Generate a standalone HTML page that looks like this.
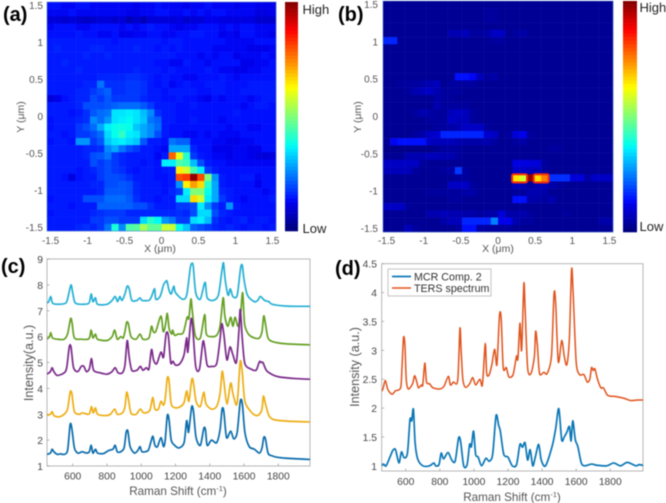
<!DOCTYPE html>
<html lang="en">
<head>
<meta charset="utf-8">
<title>Raman maps and spectra</title>
<style>
html,body{margin:0;padding:0;background:#fff;width:666px;height:503px;overflow:hidden}
svg{display:block;font-family:"Liberation Sans",sans-serif;filter:blur(0.6px)}
.tick{fill:#555;font-size:10px}
.tickc{fill:#444;font-size:10.3px}
.title{fill:#555;font-size:11.7px}
.ytitle{fill:#555;font-size:12.6px}
.ht{fill:#555;font-size:10.5px}
.panel{fill:#000;font-size:20px;font-weight:bold}
.cb{fill:#222;font-size:13px}
</style>
</head>
<body>
<svg id="fig" width="666" height="503" viewBox="0 0 666 503" xmlns="http://www.w3.org/2000/svg">
<defs>
<clipPath id="clipC"><rect x="47" y="259" width="263" height="207"/></clipPath>
<clipPath id="clipD"><rect x="381.7" y="263.7" width="261.3" height="207.3"/></clipPath>
</defs>
<g id="heatA"></g>
<g id="heatB"></g>
<g id="barA"></g>
<g id="barB"></g>
<g id="axes"></g>
<g id="linesC" clip-path="url(#clipC)"></g>
<g id="linesD" clip-path="url(#clipD)"></g>

<text class="panel" x="3" y="21">(a)</text>
<text class="panel" x="338" y="21">(b)</text>
<text class="panel" x="1" y="273">(c)</text>
<text class="panel" x="335" y="275">(d)</text>

<text class="cb" x="302.5" y="14">High</text>
<text class="cb" x="302.5" y="233">Low</text>
<text class="cb" x="639.5" y="12">High</text>
<text class="cb" x="639.5" y="231">Low</text>

<text class="ht" x="160" y="252" text-anchor="middle">X (μm)</text>
<text class="ht" transform="translate(24,117) rotate(-90)" text-anchor="middle">Y (μm)</text>
<text class="ht" x="498" y="252" text-anchor="middle">X (μm)</text>
<text class="ht" transform="translate(361,117) rotate(-90)" text-anchor="middle">Y (μm)</text>

<text class="title" x="178" y="495" text-anchor="middle">Raman Shift (cm<tspan font-size="7.5" dy="-4">-1</tspan><tspan dy="4">)</tspan></text>
<text class="ytitle" transform="translate(33,363) rotate(-90)" text-anchor="middle">Intensity(a.u.)</text>
<text class="title" x="512" y="501" text-anchor="middle">Raman Shift (cm<tspan font-size="7.5" dy="-4">-1</tspan><tspan dy="4">)</tspan></text>
<text class="ytitle" transform="translate(359,367) rotate(-90)" text-anchor="middle">Intensity (a.u.)</text>

<g>
<rect x="388" y="269" width="103" height="27" fill="#fff" stroke="#aaa" stroke-width="0.7"/>
<line x1="392" x2="411" y1="276.5" y2="276.5" stroke="#0f7ab8" stroke-width="1.7"/>
<text x="414" y="280.5" font-size="10.7" fill="#333">MCR Comp. 2</text>
<line x1="392" x2="411" y1="288" y2="288" stroke="#e0531c" stroke-width="1.6"/>
<text x="414" y="292" font-size="10.7" fill="#333">TERS spectrum</text>
</g>
</svg>

<script>
const heatTicks = [-1.5, -1, -0.5, 0, 0.5, 1, 1.5];
const heatTickLabels = ["-1.5", "-1", "-0.5", "0", "0.5", "1", "1.5"];

const mapA = [
[14,14,13,13,14,14,13,13,13,13,13,13,12,13,13,14,13,13,13,12,13,13,14,13,13,13,12,13,13,12,12,12],
[13,13,13,14,13,13,13,13,13,13,13,12,12,13,13,14,14,13,13,14,13,14,13,14,14,13,13,13,13,11,11,12],
[10,10,9,10,9,8,9,10,10,9,10,7,9,7,10,10,10,10,11,9,10,10,12,12,11,11,11,11,11,9,9,9],
[13,14,14,14,13,13,14,14,14,14,13,14,13,14,15,14,14,13,12,13,13,14,14,14,13,14,13,14,14,13,13,13],
[14,14,14,14,15,14,14,13,13,14,12,12,13,13,14,14,13,13,14,14,15,15,14,14,12,13,12,14,14,13,13,12],
[15,15,15,15,15,15,15,15,15,14,15,15,15,15,15,15,14,15,15,14,14,14,14,14,14,13,13,13,13,14,14,14],
[15,16,15,15,15,15,16,16,15,15,15,15,16,15,15,14,15,14,15,14,14,14,14,13,13,13,13,13,12,12,12,13],
[15,15,15,15,15,16,15,15,16,15,15,15,15,15,15,15,15,15,14,14,14,13,14,13,14,14,12,13,13,13,14,13],
[15,15,16,15,15,15,15,15,15,15,15,15,15,15,15,14,14,13,13,15,14,14,13,14,14,14,14,12,12,13,13,14],
[15,15,15,15,16,15,15,15,15,15,15,15,16,15,15,15,14,15,14,14,14,14,15,14,13,13,12,12,13,13,14,14],
[15,15,15,15,15,15,15,16,16,16,16,17,17,16,15,14,15,14,14,13,13,14,14,14,15,14,13,14,14,14,14,14],
[15,15,15,15,15,16,16,24,17,17,17,18,18,17,15,14,15,13,14,15,14,14,15,15,15,14,14,14,15,15,15,15],
[15,15,15,15,16,16,18,20,22,17,17,18,18,17,15,15,14,15,15,15,15,14,14,15,15,14,14,15,15,15,15,15],
[10,12,14,15,16,16,20,18,21,18,18,18,18,16,15,15,14,14,15,14,14,13,12,14,13,14,14,14,13,14,15,15],
[15,15,15,15,16,20,20,20,21,22,23,23,23,21,18,15,15,15,14,14,15,14,14,14,14,14,14,13,14,15,15,14],
[15,15,15,14,15,17,21,23,24,35,35,36,35,31,26,17,15,15,14,14,14,14,14,14,14,14,15,14,14,14,14,14],
[14,15,15,15,16,17,26,23,27,35,36,37,35,32,24,22,15,15,14,14,15,14,14,14,13,14,14,14,14,14,14,14],
[14,15,15,15,18,20,23,29,36,38,39,38,32,29,26,23,15,14,14,14,14,14,14,14,14,13,14,14,13,13,14,14],
[15,15,14,15,18,18,20,23,34,38,42,36,35,29,26,20,15,14,14,13,13,14,13,14,13,13,13,14,14,14,14,14],
[14,15,15,14,27,27,18,21,32,35,36,34,32,21,15,15,14,24,22,22,14,14,14,13,13,12,12,13,13,14,14,14],
[15,15,15,15,15,16,16,17,26,29,24,20,18,15,15,14,13,29,29,29,16,14,14,12,12,12,13,13,12,12,14,14],
[15,15,15,15,15,16,20,21,24,18,16,15,15,15,15,13,15,78,60,41,18,15,14,13,13,12,13,13,12,11,10,11],
[15,15,15,15,15,15,20,18,20,18,16,15,15,14,15,14,36,36,45,43,31,20,15,14,14,13,13,13,13,13,13,13],
[15,15,15,15,14,15,16,18,20,18,17,15,14,15,15,14,15,15,64,58,44,36,18,15,14,14,14,14,14,14,14,14],
[15,15,14,11,14,15,15,18,20,20,19,17,15,15,15,14,14,15,80,82,98,80,50,27,15,14,14,15,15,13,14,14],
[15,15,15,15,15,15,16,16,20,20,21,20,16,15,15,15,14,15,27,64,72,66,41,29,15,14,14,14,14,12,14,14],
[15,15,15,15,15,15,15,16,21,21,21,20,16,15,15,15,14,16,18,36,50,50,38,29,16,15,14,14,14,14,13,14],
[14,15,15,15,15,20,20,20,23,23,23,21,17,15,15,14,15,15,34,34,66,58,36,29,18,15,14,13,14,14,14,15],
[15,15,15,14,15,15,15,22,22,22,22,22,20,20,17,15,15,15,18,18,20,36,26,18,15,27,15,14,14,14,14,14],
[14,15,15,15,15,15,16,17,18,18,18,16,16,16,16,16,16,16,17,16,20,34,34,20,16,15,14,14,14,14,14,14],
[15,15,15,15,15,15,18,18,20,20,18,18,18,34,41,37,27,24,18,18,34,36,31,17,15,14,15,16,14,15,15,14],
[15,15,15,15,16,17,16,18,24,40,26,45,46,54,47,47,57,57,38,32,22,20,18,16,15,16,15,14,15,15,14,15]
];

const mapB = [
[3,3,3,3,3,3,3,3,3,3,3,3,3,3,3,3,3,3,3,3,3,3,3,3,3,3,3,3,3,3,3,3],
[3,3,3,3,3,3,3,3,3,3,3,3,3,3,4,4,3,3,3,3,3,3,3,3,3,3,3,3,3,3,3,3],
[3,3,3,3,3,3,3,3,3,3,3,3,3,3,4,4,3,3,3,3,3,3,3,3,3,3,3,3,3,3,3,3],
[3,3,3,3,3,3,3,3,3,3,3,3,3,3,3,3,3,3,3,3,3,3,3,3,3,3,3,3,3,3,3,3],
[3,3,3,3,3,3,3,3,3,6,6,7,4,4,5,8,8,3,4,5,3,3,3,3,3,3,3,3,3,3,3,3],
[16,16,3,3,3,3,3,3,3,3,3,3,3,3,3,4,4,3,3,3,3,3,3,3,3,3,3,3,3,3,3,3],
[3,3,3,3,3,3,3,3,3,3,3,3,3,3,3,3,3,3,3,3,3,3,3,3,3,3,3,3,3,3,3,3],
[3,3,3,3,3,3,3,3,3,3,3,3,3,3,3,3,3,3,3,3,3,3,3,3,3,3,3,3,3,3,3,3],
[3,3,3,3,3,3,3,3,3,3,3,3,3,3,3,3,3,3,3,3,3,3,3,3,3,3,3,3,3,3,3,3],
[3,3,3,3,3,3,3,3,3,3,3,3,3,3,3,3,3,3,3,3,3,3,3,3,3,3,3,3,3,3,3,3],
[3,3,3,3,3,3,3,3,3,3,14,14,13,7,4,5,3,3,3,3,3,3,3,3,3,3,3,3,3,3,3,3],
[3,3,4,4,4,5,6,7,3,4,4,4,4,3,3,3,3,3,3,3,3,3,3,3,3,3,3,3,3,3,3,3],
[3,3,3,4,6,7,8,6,4,4,4,3,3,3,3,3,3,3,3,3,3,3,3,3,3,3,3,3,3,3,3,3],
[3,3,3,3,3,3,3,5,4,4,3,3,3,3,3,3,3,3,3,3,3,3,3,3,3,3,3,3,3,3,3,3],
[3,3,3,3,3,3,3,6,4,4,4,4,3,3,3,3,3,3,3,3,3,3,3,3,3,3,3,3,3,3,3,3],
[3,3,3,3,4,6,5,4,4,7,8,7,4,3,3,3,3,3,3,3,3,3,3,3,3,3,3,3,3,3,3,3],
[3,3,3,3,3,3,4,4,4,8,7,7,4,3,3,3,3,3,3,3,3,3,3,3,3,3,3,3,3,3,3,3],
[3,3,3,3,3,3,3,4,4,5,6,8,8,8,4,3,3,3,3,3,3,3,3,3,3,3,3,3,3,3,3,3],
[3,3,3,3,4,5,8,9,16,16,16,16,16,16,9,8,3,4,10,12,4,3,3,3,3,3,3,3,3,3,3,3],
[3,13,14,14,14,14,8,7,7,7,6,5,5,5,6,4,3,3,4,5,3,3,3,3,3,3,3,3,3,3,3,3],
[2,2,2,2,2,2,2,3,4,4,4,3,3,3,3,3,3,3,3,3,3,3,3,4,4,3,3,3,3,3,3,3],
[3,3,3,6,6,6,7,7,6,6,4,3,3,3,3,3,3,3,3,3,3,3,3,3,3,3,3,3,3,3,3,3],
[8,8,8,8,8,4,3,3,3,3,3,3,3,3,3,3,3,3,11,11,10,10,4,3,3,3,3,3,3,3,3,3],
[7,7,7,7,4,3,3,3,4,5,18,4,3,3,3,3,3,3,8,8,7,7,4,3,3,3,3,3,3,3,3,3],
[3,3,3,3,3,3,3,3,3,3,4,4,3,3,3,3,3,3,65,58,98,66,75,17,17,17,10,10,5,8,8,8],
[3,3,3,3,3,3,3,3,3,8,8,8,4,3,3,3,3,3,7,6,4,6,7,5,4,3,3,3,3,3,3,3],
[3,3,3,3,3,3,4,4,4,4,4,5,5,3,3,3,3,3,4,4,6,6,5,3,3,3,3,3,3,3,3,3],
[3,3,3,3,3,3,3,3,3,4,4,3,3,3,3,3,3,3,14,14,5,5,4,6,3,3,3,3,3,3,3,3],
[8,8,8,4,3,3,3,3,3,3,3,3,3,3,3,3,3,3,3,3,3,3,3,3,3,3,3,3,3,3,3,3],
[3,3,3,3,3,3,6,6,7,6,6,5,5,4,5,5,10,5,5,6,4,3,3,3,3,4,3,3,3,3,3,3],
[3,3,3,3,3,3,3,3,5,7,7,16,16,16,16,25,12,12,6,4,4,3,3,3,3,3,3,3,3,3,5,5],
[3,3,3,7,4,3,3,3,3,3,4,14,14,5,4,4,4,4,3,3,3,3,3,3,3,3,3,3,3,3,3,3]
];

const hotRow = 24;
const hotRunStart = [18, 21];
const hotRunEnd = [19, 22];

const cTicksX = [600, 800, 1000, 1200, 1400, 1600, 1800];
const cTicksY = [1, 2, 3, 4, 5, 6, 7, 8, 9];
const dTicksX = [600, 800, 1000, 1200, 1400, 1600, 1800];
const dTicksY = [1, 1.5, 2, 2.5, 3, 3.5, 4, 4.5];

const blueShift = [450,470,480,490,510,530,550,570,585,595,610,630,655,680,697,708,718,733,745,780,810,835,848,860,880,900,912,922,935,960,980,993,1005,1040,1055,1068,1080,1095,1115,1130,1140,1152,1162,1175,1195,1220,1250,1265,1275,1282,1295,1305,1320,1345,1365,1375,1385,1410,1440,1460,1472,1482,1498,1522,1540,1560,1578,1590,1605,1630,1660,1690,1705,1715,1725,1740,1760,1800,1850,1900,2000];
const blueValues = [1.45,1.5,1.65,1.55,1.45,1.47,1.45,1.6,2.6,2.45,1.7,1.5,1.55,1.5,1.55,1.8,1.5,1.65,1.5,1.48,1.6,1.65,1.8,1.55,1.55,1.7,2.3,2.35,1.75,1.5,1.6,1.75,1.55,1.6,1.9,2.15,1.8,1.75,2.1,1.75,2,2.95,2.8,2,1.8,1.7,1.9,2.75,2.3,2.6,3.3,3.1,2.1,1.8,2.45,2.4,1.8,2,1.9,2.4,3.2,3.1,2.1,2.35,2.05,2.3,3.5,3.4,2.3,1.75,1.65,1.5,1.7,2.1,2.05,1.5,1.4,1.33,1.3,1.28,1.25];

const yellowShift = [450,470,480,490,520,550,570,585,595,610,640,655,690,700,710,720,733,745,790,820,845,860,890,905,915,925,940,970,995,1015,1050,1067,1080,1100,1115,1130,1140,1152,1162,1175,1200,1230,1250,1265,1278,1295,1305,1320,1345,1365,1378,1410,1440,1460,1472,1482,1500,1522,1535,1555,1565,1578,1590,1605,1640,1670,1690,1705,1713,1725,1745,1770,1820,1900,2000];
const yellowValues = [2.95,3,3.1,2.95,2.9,3,3.2,3.85,3.8,3.1,3,3.05,3,3.05,3.3,3.05,3.25,3,2.95,3,3.2,3,3.05,3.3,3.85,3.6,3.05,3,3.2,3.05,3.15,3.65,3.2,3.2,3.5,3.35,3.6,4.4,4.3,3.4,3.25,3.3,3.45,3.9,3.5,4.35,4.2,3.5,3.3,3.85,3.4,3.2,3.3,3.8,4.65,4.3,3.4,4.2,3.8,3.35,3.8,5.05,4.6,3.5,3.1,2.95,3,3.2,3.7,3.4,2.95,2.8,2.75,2.72,2.7];

const purpleShift = [450,470,480,490,510,550,565,580,590,605,630,650,665,680,697,710,722,760,800,830,848,865,890,905,918,930,945,975,995,1010,1030,1045,1060,1072,1090,1115,1130,1145,1158,1172,1185,1200,1225,1250,1265,1272,1290,1300,1318,1340,1360,1370,1385,1410,1440,1460,1470,1482,1500,1518,1535,1555,1570,1578,1590,1605,1640,1670,1685,1692,1700,1710,1730,1760,1800,1900,2000];
const purpleValues = [4.55,4.65,4.8,4.65,4.5,4.6,4.8,5.6,5.6,4.8,4.65,4.85,4.85,4.65,4.75,5.15,4.7,4.6,4.55,4.65,4.8,4.6,4.6,4.9,5.85,5.2,4.7,4.7,4.85,4.7,4.8,4.75,5.5,5.1,4.95,5.4,5.2,6.1,6.05,5,5.05,4.9,4.95,5.3,5.95,5.4,6.65,6.4,4.85,4.75,5.8,5.6,4.9,4.85,4.95,5.9,6.5,6.1,5.1,5.6,5.3,5,6.2,7.05,5.9,4.95,4.75,4.7,4.95,5.05,5,5,4.7,4.55,4.45,4.38,4.35];

const greenShift = [450,465,472,482,510,550,570,588,597,610,650,690,700,708,718,733,745,800,830,845,860,880,895,905,915,925,940,970,993,1010,1045,1060,1070,1085,1115,1128,1140,1152,1163,1178,1183,1195,1215,1245,1268,1278,1290,1298,1315,1345,1370,1380,1410,1440,1460,1478,1488,1505,1522,1535,1548,1565,1580,1592,1603,1625,1660,1690,1705,1715,1725,1740,1770,1850,2000];
const greenValues = [5.9,6,6.15,5.95,5.9,5.9,6.1,6.7,6.5,5.95,5.9,5.9,6,6.25,5.95,6.1,5.9,5.85,6,6.25,5.9,6,5.95,6.2,6.55,6.5,6,5.9,6.1,5.9,5.95,6.4,6.2,6.2,6.8,6.2,6.4,6.9,6.3,6.1,6.25,6.05,6.1,6.15,6.75,6.7,7.45,7,6.05,5.95,6.85,6.1,6,6.05,6.4,7.5,6.8,6.4,6.75,6.4,6.75,6.4,6.9,7.7,6.5,6.1,5.95,5.95,6.2,6.8,6.5,5.95,5.8,5.72,5.68];

const cyanShift = [450,460,472,482,510,560,575,590,600,615,660,695,708,718,733,745,800,830,848,862,875,888,905,918,930,945,975,993,1005,1045,1060,1078,1085,1110,1130,1140,1150,1162,1175,1190,1200,1240,1265,1285,1292,1303,1318,1345,1372,1385,1420,1450,1470,1480,1490,1507,1520,1535,1560,1580,1590,1600,1620,1660,1680,1695,1720,1745,1765,1850,2000];
const cyanValues = [7.3,7.35,7.55,7.3,7.25,7.3,7.6,8,7.7,7.3,7.25,7.3,7.65,7.35,7.5,7.25,7.25,7.4,7.55,7.35,7.55,7.4,7.65,7.95,7.85,7.4,7.4,7.5,7.4,7.4,7.55,7.85,7.45,7.55,8,8.1,8.15,7.8,7.65,7.95,7.7,7.45,7.6,8.6,8.8,8.75,7.7,7.45,8.1,7.5,7.4,7.6,8.5,8.85,8.2,7.6,7.85,7.55,7.6,8.65,8.75,8.2,7.6,7.35,7.4,7.55,7.4,7.35,7.25,7.18,7.17];

const tersShift = [450,465,480,495,520,540,570,578,587,595,603,615,640,652,665,675,692,700,712,722,740,760,800,825,850,862,880,905,918,925,935,950,975,993,1010,1035,1048,1055,1067,1075,1090,1105,1122,1135,1150,1160,1172,1190,1205,1230,1250,1258,1270,1280,1293,1300,1315,1335,1355,1362,1372,1385,1410,1430,1455,1470,1480,1495,1515,1530,1545,1560,1573,1582,1600,1620,1645,1665,1680,1690,1700,1710,1725,1745,1760,1785,1830,1880,1920,1960,2000];
const tersValues = [2.28,2.32,2.48,2.32,2.24,2.3,2.35,2.7,3.22,3.1,2.5,2.33,2.42,2.56,2.45,2.35,2.4,2.4,2.78,2.45,2.42,2.35,2.33,2.38,2.55,2.4,2.45,2.48,3.38,3,2.5,2.36,2.42,2.53,2.4,2.5,2.38,2.6,3.12,2.6,2.58,2.75,3.02,2.75,3.6,3.55,2.7,2.7,2.54,2.58,2.9,2.85,3.47,3,4.15,3.75,2.7,2.6,2.9,3.33,3.1,2.6,2.62,2.6,2.9,3.98,3.8,2.8,3.17,2.9,2.75,3.2,4.4,4,2.8,2.58,2.58,2.45,2.5,2.7,2.65,2.68,2.5,2.35,2.35,2.22,2.2,2.17,2.13,2.14,2.14];

const mcrShift = [450,470,485,510,525,540,560,575,590,610,625,635,645,655,670,700,740,765,775,795,808,822,848,870,890,910,922,940,960,975,985,998,1010,1025,1045,1070,1090,1110,1130,1145,1155,1175,1200,1225,1250,1270,1285,1300,1315,1330,1345,1360,1380,1395,1420,1460,1480,1498,1515,1530,1545,1560,1570,1580,1595,1610,1630,1650,1690,1720,1780,1820,1860,1900,1950,1970,2000];
const mcrValues = [1,1.03,1,1.17,1.27,1.28,1.05,1.24,1.14,1.22,1.8,1.78,1.98,1.4,1.12,1,1,1.05,1,1.02,1.22,1.12,1.23,1.1,1.08,1.48,1.42,1,1.02,1.37,1.33,1.6,1.2,1.15,1,1.13,1.08,1.2,1.87,1.7,1.6,1.2,1.15,1,1.02,1.37,1.32,1.4,1.1,1.28,1,1.15,1.37,1.1,1,1.35,1.65,1.99,1.45,1.5,1.58,1.68,1.43,1.78,1.45,1.33,1.05,1,1.03,1.01,1,1.05,1,1.06,1,1.02,1];

const NS = "http://www.w3.org/2000/svg";

function jet(v) {
  const c = (x) => Math.round(255 * Math.max(0, Math.min(1, x)));
  const r = Math.min(4 * v - 1.5, -4 * v + 4.5);
  const g = Math.min(4 * v - 0.5, -4 * v + 3.5);
  const b = Math.min(4 * v + 0.5, -4 * v + 2.5) * 0.94;
  return "rgb(" + c(r) + "," + c(g) + "," + c(b) + ")";
}

function shape(parent, tag, attrs) {
  const el = document.createElementNS(NS, tag);
  for (const k in attrs) el.setAttribute(k, attrs[k]);
  parent.appendChild(el);
  return el;
}

function drawHeat(parent, matrix, x0, y0, w, h, name) {
  const rows = matrix.length;
  const cols = matrix[0].length;
  const cw = w / cols;
  const ch = h / rows;
  matrix.forEach((row, j) => {
    row.forEach((value, i) => {
      const cell = shape(parent, "rect", {
        x: x0 + i * cw, y: y0 + j * ch, width: cw + 0.25, height: ch + 0.25, fill: jet(value / 100)
      });
      
      
    });
  });
}

function drawHotHalo(parent, x0, y0, w, h, cols, rows) {
  const cw = w / cols;
  const ch = h / rows;
  hotRunStart.forEach((start, k) => {
    const halo = shape(parent, "rect", {
      x: x0 + start * cw - 0.3, y: y0 + hotRow * ch, width: (hotRunEnd[k] - start + 1) * cw + 0.6, height: ch + 1,
      rx: 1.5, fill: "none", stroke: "#f02a10", "stroke-width": 2
    });
    
    
  });
}

function drawColorbar(parent, x, y, w, h) {
  const steps = 64;
  for (let k = 0; k < steps; k++) {
    const seg = shape(parent, "rect", {
      x: x, y: y + (h * k) / steps, width: w, height: h / steps + 0.3, fill: jet(1 - (k + 0.5) / steps)
    });
    
    
  }
}

function tickLabel(parent, x, y, text, anchor, cls) {
  const t = shape(parent, "text", { x: x, y: y, "text-anchor": anchor, class: cls });
  t.textContent = text;
  
  
}

function heatAxes(parent, x0, y0, w, h, labelX, labelY) {
  const half = 3 / 31 / 2;
  const sx = (v) => x0 + ((v + 1.5 + half) / (3 + 2 * half)) * w;
  const sy = (v) => y0 + ((1.5 + half - v) / (3 + 2 * half)) * h;
  heatTicks.forEach((v, i) => {
    tickLabel(parent, sx(v), labelY, heatTickLabels[i], "middle", "tick");
    tickLabel(parent, labelX, sy(v) + 3.5, heatTickLabels[i], "end", "tick");
  });
  const frame = shape(parent, "rect", { x: x0, y: y0, width: w, height: h, fill: "none", stroke: "#5a7fc8", "stroke-width": 0.6 });
  
  
}

function makeScale(dMin, dMax, rMin, rMax) {
  return (v) => rMin + ((v - dMin) / (dMax - dMin)) * (rMax - rMin);
}

function lineAxes(parent, sx, sy, x0, x1, y0, y1, xt, yt, labelX, labelY) {
  const frame = shape(parent, "rect", { x: x0, y: y0, width: x1 - x0, height: y1 - y0, fill: "#fff", stroke: "#a5a5a5", "stroke-width": 0.8 });
  
  
  xt.forEach((v) => {
    const m = shape(parent, "line", { x1: sx(v), x2: sx(v), y1: y1, y2: y1 - 2.5, stroke: "#888", "stroke-width": 0.6 });
    
    
    tickLabel(parent, sx(v), labelY, String(v), "middle", "tickc");
  });
  yt.forEach((v) => {
    const m = shape(parent, "line", { x1: x0, x2: x0 + 2.5, y1: sy(v), y2: sy(v), stroke: "#888", "stroke-width": 0.6 });
    
    
    tickLabel(parent, labelX, sy(v) + 4, String(v), "end", "tickc");
  });
}

function drawLine(parent, xs, ys, sx, sy, color, width, name) {
  const px = xs.map(sx);
  const py = ys.map(sy);
  let d = "M" + px[0].toFixed(2) + " " + py[0].toFixed(2);
  for (let i = 0; i < px.length - 1; i++) {
    const a = Math.max(0, i - 1);
    const b = Math.min(px.length - 1, i + 2);
    const c1x = px[i] + (px[i + 1] - px[a]) / 7;
    const c1y = py[i] + (py[i + 1] - py[a]) / 7;
    const c2x = px[i + 1] - (px[b] - px[i]) / 7;
    const c2y = py[i + 1] - (py[b] - py[i]) / 7;
    d += " C" + c1x.toFixed(2) + " " + c1y.toFixed(2) + " " + c2x.toFixed(2) + " " + c2y.toFixed(2) + " " + px[i + 1].toFixed(2) + " " + py[i + 1].toFixed(2);
  }
  const line = shape(parent, "path", { d: d, fill: "none", stroke: color, "stroke-width": width, "stroke-linejoin": "round" });
  
  
}

const axesLayer = document.getElementById("axes");

drawHeat(document.getElementById("heatA"), mapA, 47, 2, 229, 229, "heatmap-a-cell");
drawHeat(document.getElementById("heatB"), mapB, 383, 1, 230, 231, "heatmap-b-cell");
drawHotHalo(document.getElementById("heatB"), 383, 1, 230, 231, 32, 32);
drawColorbar(document.getElementById("barA"), 285, 2, 13, 229);
drawColorbar(document.getElementById("barB"), 623, 1, 14, 231);
heatAxes(axesLayer, 47, 2, 229, 229, 43, 244);
heatAxes(axesLayer, 383, 1, 230, 231, 378, 244);

const cX = makeScale(450, 1985, 47, 310);
const cY = makeScale(1, 9, 466, 259);
lineAxes(axesLayer, cX, cY, 47, 310, 259, 466, cTicksX, cTicksY, 43, 479.5);

const dX = makeScale(459, 1992, 381.7, 643);
const dY = makeScale(0.91, 4.5, 471, 263.7);
lineAxes(axesLayer, dX, dY, 381.7, 643, 263.7, 471, dTicksX, dTicksY, 377, 485);

const gC = document.getElementById("linesC");
drawLine(gC, cyanShift, cyanValues, cX, cY, "#25b0d4", 1.7, "series-cyan");
drawLine(gC, greenShift, greenValues, cX, cY, "#66a024", 1.7, "series-green");
drawLine(gC, purpleShift, purpleValues, cX, cY, "#7a2a8a", 1.7, "series-purple");
drawLine(gC, yellowShift, yellowValues, cX, cY, "#edae14", 1.7, "series-yellow");
drawLine(gC, blueShift, blueValues, cX, cY, "#0a6cac", 1.7, "series-blue");

const gD = document.getElementById("linesD");
drawLine(gD, mcrShift, mcrValues, dX, dY, "#0a76b6", 1.7, "series-mcr-comp-2");
drawLine(gD, tersShift, tersValues, dX, dY, "#e0531c", 1.5, "series-ters-spectrum");
</script>
</body>
</html>
